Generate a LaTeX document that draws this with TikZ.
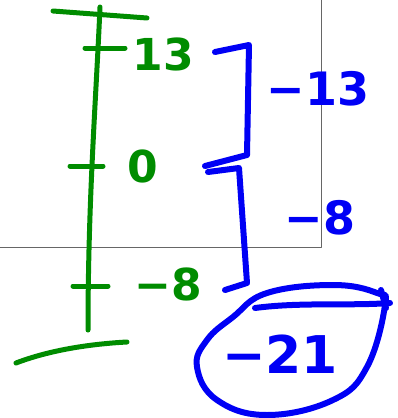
\documentclass[tikz,border=0pt]{standalone}
\usepackage{fontspec}
\setmainfont{DejaVu Sans}
\usepackage{tikz}
\usetikzlibrary{arrows.meta,positioning,calc}
\definecolor{penblue}{RGB}{0,0,245}
\definecolor{pengreen}{RGB}{0,140,0}

\begin{document}
\begin{tikzpicture}[x=1pt,y=-1pt,line cap=round,line join=round]
  \tikzstyle{gline}=[line width=5pt,pengreen]
  \tikzstyle{bline}=[line width=6pt,penblue]
  \tikzstyle{glabel}=[text=pengreen,font=\fontsize{44}{44}\selectfont\bfseries,inner sep=0pt]
  \tikzstyle{blabel}=[text=penblue,font=\fontsize{46}{46}\selectfont\bfseries,inner sep=0pt]
  \useasboundingbox (0,0) rectangle (397,418);
  \draw[gray!80!black,line width=1pt] (0,247) -- (321,247) -- (321,0);
  \coordinate (top) at (100,7);
  \coordinate (bottom) at (88,330);
  \draw[gline] (top) .. controls (96,100) and (88,200) .. (bottom);
  \draw[gline] (53,11) -- (147,18);
  \draw[gline] (16,363) .. controls (50,350) and (90,344) .. (127,342);
  \coordinate (t13) at (96,48);
  \coordinate (t0) at (90,166);
  \coordinate (tm8) at (90,286);
  \draw[gline] ([xshift=-11pt]t13) -- ([xshift=29pt]t13);
  \draw[gline] ([xshift=-20pt]t0) -- ([xshift=13pt]t0);
  \draw[gline] ([xshift=-17pt]tm8) -- ([xshift=18pt]tm8);
  \node[glabel] (n13) at (163,54) {13};
  \node[glabel] (n0) at (143,166) {0};
  \node[glabel] (nm8) at (168,284) {−8};
  \coordinate (b1a) at (215,52);
  \coordinate (b1b) at (205,166);
  \coordinate (b2a) at (208,172);
  \coordinate (b2b) at (225,290);
  \draw[bline] (b1a) -- (249,45) -- (247,155) -- (b1b);
  \draw[bline] (b2a) -- (239,168) -- (247,283) -- (b2b);
  \node[blabel] (d13) at (318,89) {−13};
  \node[blabel] (d8) at (320,218) {−8};
  \node[blabel,font=\fontsize{52}{52}\selectfont\bfseries] (sum) at (280,354) {−21};
  \draw[bline] plot[smooth cycle,tension=0.7] coordinates {(385,305) (367,367) (333,400) (267,415) (217,400) (197,367) (207,340) (233,317) (267,293) (333,285) (377,293)};
  \draw[bline] (255,308) .. controls (300,302) and (350,306) .. (390,303);
  \draw[bline] (381,290) -- (386,308);
\end{tikzpicture}
\end{document}
